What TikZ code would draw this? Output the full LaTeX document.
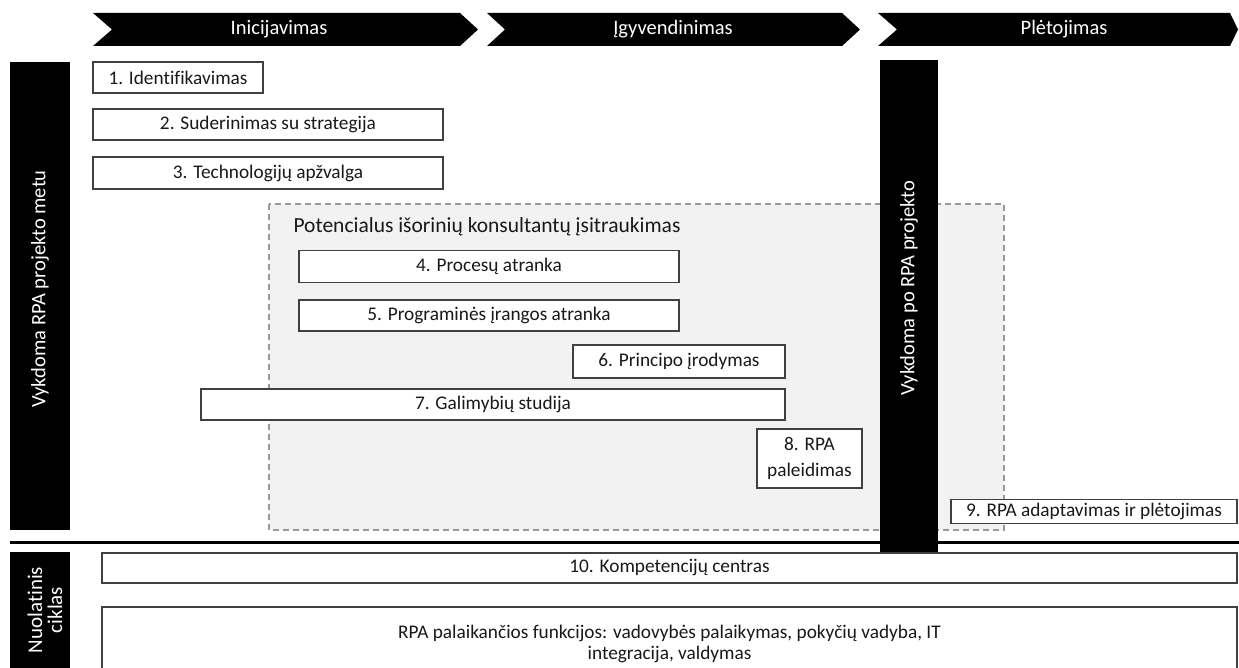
\documentclass[tikz,border=0pt]{standalone}
\usepackage{fontspec}
\setmainfont{Carlito}[Ligatures={NoCommon}]
\begin{document}
\begin{tikzpicture}[x=1pt,y=-1pt,
  box/.style={draw=black!75, line width=1.4pt, fill=white, inner sep=0pt, text=black!90, font=\fontsize{19.3}{23}\selectfont},
  bar/.style={fill=black},
  bartext/.style={text=white, rotate=90, font=\fontsize{20.5}{24}\selectfont, align=center},
  phase/.style={text=white, font=\fontsize{20.5}{24}\selectfont},
  dashbox/.style={draw=black!40, dash pattern=on 6pt off 4pt, line width=1.4pt, fill=black!5}]
\useasboundingbox (0,0) rectangle (1239,668);
\clip (0,0) rectangle (1239,668);
% phase chevrons
\fill (93,13) -- (460,13) -- (478,29.5) -- (460,46) -- (93,46) -- (112,29.5) -- cycle;
\fill (487,13) -- (842,13) -- (860,29.5) -- (842,46) -- (487,46) -- (505,29.5) -- cycle;
\fill (878,13) -- (1230,13) -- (1238,29.5) -- (1230,46) -- (878,46) -- (897,29.5) -- cycle;
\node[phase] (ph1) at (279,29.5) {Inicijavimas};
\node[phase] (ph2) at (673,29.5) {Įgyvendinimas};
\node[phase] (ph3) at (1064,29.5) {Plėtojimas};
% dashed region
\draw[dashbox] (269,204) rectangle (1004,530);
\node[anchor=west, text=black!90, font=\fontsize{21.5}{26}\selectfont] (pot) at (290,227) {Potencialus išorinių konsultantų įsitraukimas};
% left bar
\fill[bar] (10,62) rectangle (70,530);
\node[bartext] (lb) at (40,289) {Vykdoma RPA projekto metu};
% right bar
\fill[bar] (880,60) rectangle (938,553);
\node[bartext] (rb) at (909,288) {Vykdoma po RPA projekto};
% boxes
\node[box, minimum width=170, minimum height=31] (b1) at (178,77.5) {1. Identifikavimas};
\node[box, minimum width=350, minimum height=31] (b2) at (268,124.5) {2. Suderinimas su strategija};
\node[box, minimum width=350, minimum height=32] (b3) at (268,173) {3. Technologijų apžvalga};
\node[box, minimum width=380, minimum height=32] (b4) at (489,266.5) {4. Procesų atranka};
\node[box, minimum width=380, minimum height=31] (b5) at (489,315.5) {5. Programinės įrangos atranka};
\node[box, minimum width=212, minimum height=33] (b6) at (679,361.5) {6. Principo įrodymas};
\node[box, minimum width=584, minimum height=31] (b7) at (493,404.5) {7. Galimybių studija};
\node[box, minimum width=105, minimum height=59, align=center, font=\fontsize{19.3}{26}\selectfont] (b8) at (809.5,458.5) {8. RPA\\paleidimas};
\node[box, minimum width=286, minimum height=24] (b9) at (1094,511.5) {9. RPA adaptavimas ir plėtojimas};
% separator
\coordinate (sl) at (10,542);
\coordinate (sr) at (1239,542);
\draw[line width=3pt] (sl) -- (sr);
% bottom section
\fill[bar] (10,552) rectangle (70,672);
\node[bartext, font=\fontsize{21}{20}\selectfont] (bb) at (45,610) {Nuolatinis\\ciklas};
\node[box, minimum width=1135, minimum height=30] (b10) at (669.5,568) {10. Kompetencijų centras};
\node[box, minimum width=1135, minimum height=74, align=center, font=\fontsize{19.3}{21}\selectfont] (b11) at (669.5,644) {RPA palaikančios funkcijos: vadovybės palaikymas, pokyčių vadyba, IT\\integracija, valdymas};
\end{tikzpicture}
\end{document}
